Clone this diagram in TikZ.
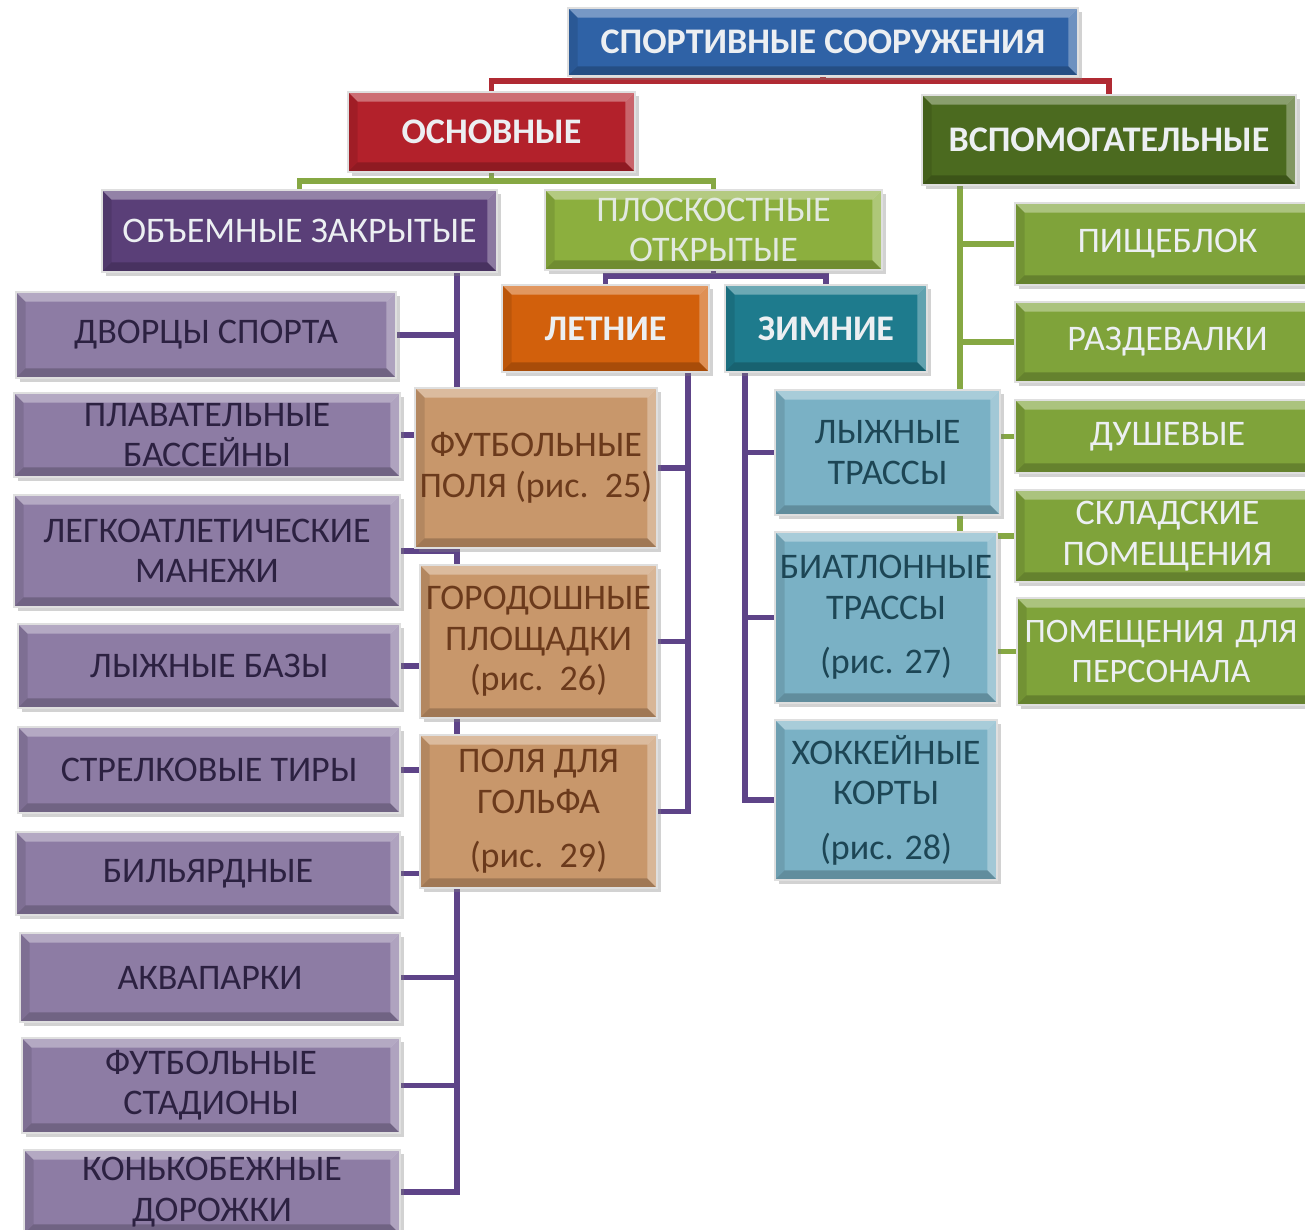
\documentclass[tikz,border=0pt]{standalone}
\usepackage{fontspec}
\setmainfont{Carlito}
\usetikzlibrary{shadows,backgrounds}
\definecolor{cTop}{HTML}{2F62A6}
\definecolor{cRed}{HTML}{B3212B}
\definecolor{cDkGreen}{HTML}{4B6A1F}
\definecolor{cPurple}{HTML}{5A3F78}
\definecolor{cLtGreen}{HTML}{8CAF3E}
\definecolor{cOrange}{HTML}{D2600C}
\definecolor{cTeal}{HTML}{1E7B8D}
\definecolor{cLilac}{HTML}{8D7CA4}
\definecolor{cTan}{HTML}{C8976B}
\definecolor{cLtBlue}{HTML}{7AB1C5}
\definecolor{cGreen}{HTML}{7FA33A}
\definecolor{tLilac}{HTML}{2C2141}
\definecolor{tTan}{HTML}{6B3A1C}
\definecolor{tBlue}{HTML}{1D4655}
\definecolor{tLight}{HTML}{ECEFF2}
\definecolor{lRed}{HTML}{B02A33}
\definecolor{lGreen}{HTML}{86A843}
\definecolor{lPurple}{HTML}{5E4488}
\newcommand{\bevsize}{5.5pt}
\newcommand{\mybox}[7]{%
  \pgfmathsetmacro\bw{(#4-#2)*0.02}%
  \pgfmathsetmacro\bh{(#5-#3)*0.02}%
  \node[basebox,#6,minimum width=\bw cm,minimum height=\bh cm] (#1) at ({(#2+#4)/2},{(#3+#5)/2}) {#7};}
\tikzset{
  basebox/.style={rectangle, inner sep=0pt, align=center, draw=white!75!gray, line width=0.8pt,
    font=\fontsize{20.5}{23}\selectfont,
    drop shadow={opacity=0.35, shadow xshift=2pt, shadow yshift=-2.5pt},
    path picture={
      \coordinate (pa) at (path picture bounding box.north west);
      \coordinate (pb) at (path picture bounding box.north east);
      \coordinate (pc) at (path picture bounding box.south east);
      \coordinate (pd) at (path picture bounding box.south west);
      \fill[white,opacity=0.35] (pa) -- (pb) -- ([shift={(-\bevsize,-\bevsize)}]pb) -- ([shift={(\bevsize,-\bevsize)}]pa) -- cycle;
      \fill[black,opacity=0.10] (pa) -- ([shift={(\bevsize,-\bevsize)}]pa) -- ([shift={(\bevsize,\bevsize)}]pd) -- (pd) -- cycle;
      \fill[white,opacity=0.30] (pb) -- (pc) -- ([shift={(-\bevsize,\bevsize)}]pc) -- ([shift={(-\bevsize,-\bevsize)}]pb) -- cycle;
      \fill[black,opacity=0.20] (pd) -- (pc) -- ([shift={(-\bevsize,\bevsize)}]pc) -- ([shift={(\bevsize,\bevsize)}]pd) -- cycle;
    }},
  head/.style={text=tLight, font=\fontsize{20.5}{23}\selectfont\bfseries},
  topbox/.style={head, fill=cTop},
  redbox/.style={head, fill=cRed},
  dkgbox/.style={head, fill=cDkGreen},
  orbox/.style={head, fill=cOrange},
  teabox/.style={head, fill=cTeal},
  purbox/.style={fill=cPurple, text=tLight},
  lgbox/.style={fill=cLtGreen, text=tLight!90!cLtGreen},
  lilbox/.style={fill=cLilac, text=tLilac},
  tanbox/.style={fill=cTan, text=tTan},
  lbbox/.style={fill=cLtBlue, text=tBlue},
  grbox/.style={fill=cGreen, text=tLight},
  conn/.style={line width=3.2pt},
  redline/.style={conn, draw=lRed},
  greenline/.style={conn, draw=lGreen},
  purline/.style={conn, draw=lPurple},
}
\begin{document}
\begin{tikzpicture}[x=0.02cm,y=-0.02cm]
\useasboundingbox (0,0) rectangle (1305,1230);
% boxes
\mybox{top}{568}{8}{1078}{76}{topbox}{СПОРТИВНЫЕ СООРУЖЕНИЯ}
\mybox{osn}{348}{92}{635}{172}{redbox}{ОСНОВНЫЕ}
\mybox{vsp}{922}{95}{1296}{185}{dkgbox}{ВСПОМОГАТЕЛЬНЫЕ}
\mybox{obj}{102}{190}{497}{272}{purbox}{ОБЪЕМНЫЕ ЗАКРЫТЫЕ}
\mybox{plo}{545}{190}{882}{270}{lgbox}{ПЛОСКОСТНЫЕ\\ОТКРЫТЫЕ}
\mybox{let}{502}{285}{709}{372}{orbox}{ЛЕТНИЕ}
\mybox{zim}{725}{285}{927}{372}{teabox}{ЗИМНИЕ}
% left column
\mybox{l1}{16}{292}{396}{378}{lilbox}{ДВОРЦЫ СПОРТА}
\mybox{l2}{14}{393}{400}{477}{lilbox}{ПЛАВАТЕЛЬНЫЕ\\БАССЕЙНЫ}
\mybox{l3}{14}{495}{400}{607}{lilbox}{ЛЕГКОАТЛЕТИЧЕСКИЕ\\МАНЕЖИ}
\mybox{l4}{18}{624}{400}{708}{lilbox}{ЛЫЖНЫЕ БАЗЫ}
\mybox{l5}{18}{727}{400}{813}{lilbox}{СТРЕЛКОВЫЕ ТИРЫ}
\mybox{l6}{16}{832}{400}{915}{lilbox}{БИЛЬЯРДНЫЕ}
\mybox{l7}{20}{933}{400}{1022}{lilbox}{АКВАПАРКИ}
\mybox{l8}{22}{1038}{400}{1133}{lilbox}{ФУТБОЛЬНЫЕ\\СТАДИОНЫ}
\mybox{l9}{24}{1150}{400}{1234}{lilbox}{КОНЬКОБЕЖНЫЕ\\ДОРОЖКИ}
% summer
\mybox{t1}{415}{388}{657}{548}{tanbox}{ФУТБОЛЬНЫЕ\\ПОЛЯ (рис.~~25)}
\mybox{t2}{420}{565}{657}{718}{tanbox}{ГОРОДОШНЫЕ\\ПЛОЩАДКИ\\(рис.~~26)}
\mybox{t3}{420}{735}{657}{888}{tanbox}{ПОЛЯ ДЛЯ\\ГОЛЬФА\\[8pt](рис.~~29)}
% winter
\mybox{b1}{775}{390}{1000}{515}{lbbox}{ЛЫЖНЫЕ\\ТРАССЫ}
\mybox{b2}{775}{532}{997}{703}{lbbox}{БИАТЛОННЫЕ\\ТРАССЫ\\[8pt](рис. 27)}
\mybox{b3}{775}{720}{997}{880}{lbbox}{ХОККЕЙНЫЕ\\КОРТЫ\\[8pt](рис. 28)}
% auxiliary
\mybox{g1}{1015}{203}{1320}{285}{grbox}{ПИЩЕБЛОК}
\mybox{g2}{1015}{302}{1320}{382}{grbox}{РАЗДЕВАЛКИ}
\mybox{g3}{1015}{400}{1320}{473}{grbox}{ДУШЕВЫЕ}
\mybox{g4}{1015}{490}{1320}{582}{grbox}{СКЛАДСКИЕ\\ПОМЕЩЕНИЯ}
\mybox{g5}{1017}{598}{1320}{705}{grbox, text width=5.6cm, font=\fontsize{19.5}{23}\selectfont}{\hspace*{-0.3cm}ПОМЕЩЕНИЯ ДЛЯ\\\hspace*{-0.3cm}ПЕРСОНАЛА}
\coordinate (lt) at (457,0);
\coordinate (st) at (688,0);
\coordinate (wt) at (745,0);
\coordinate (vt) at (960,0);
\begin{scope}[on background layer]
\fill[white] (0,0) rectangle (1305,1230);
% level 1
\draw[redline] (top.south) -- ++(0,7);
\draw[redline] (osn.north) -- ++(0,-10) -| (vsp.north);
% level 2
\draw[greenline] (osn.south) -- ++(0,10);
\draw[greenline] (obj.north) -- ++(0,-8) -| (plo.north);
% level 3
\draw[purline] (plo.south) -- ++(0,7);
\draw[purline] (let.north) -- ++(0,-8) -| (zim.north);
% left trunk
\draw[purline] (lt |- obj.south) -- (lt |- l9.east) -- (l9.east);
\foreach \n in {l1,l2,l3,l4,l5,l6,l7,l8} \draw[purline] (\n.east) -- (lt |- \n.east);
% summer trunk
\draw[purline] (st |- let.south) -- (st |- t3.east) -- (t3.east);
\foreach \n in {t1,t2} \draw[purline] (\n.east) -- (st |- \n.east);
% winter trunk
\draw[purline] (wt |- zim.south) -- (wt |- b3.west) -- (b3.west);
\foreach \n in {b1,b2} \draw[purline] (\n.west) -- (wt |- \n.west);
% auxiliary trunk
\draw[greenline] (vt |- vsp.south) -- (vt |- g5.west) -- (g5.west);
\foreach \n in {g1,g2,g3,g4} \draw[greenline] (\n.west) -- (vt |- \n.west);
\end{scope}
\end{tikzpicture}
\end{document}
